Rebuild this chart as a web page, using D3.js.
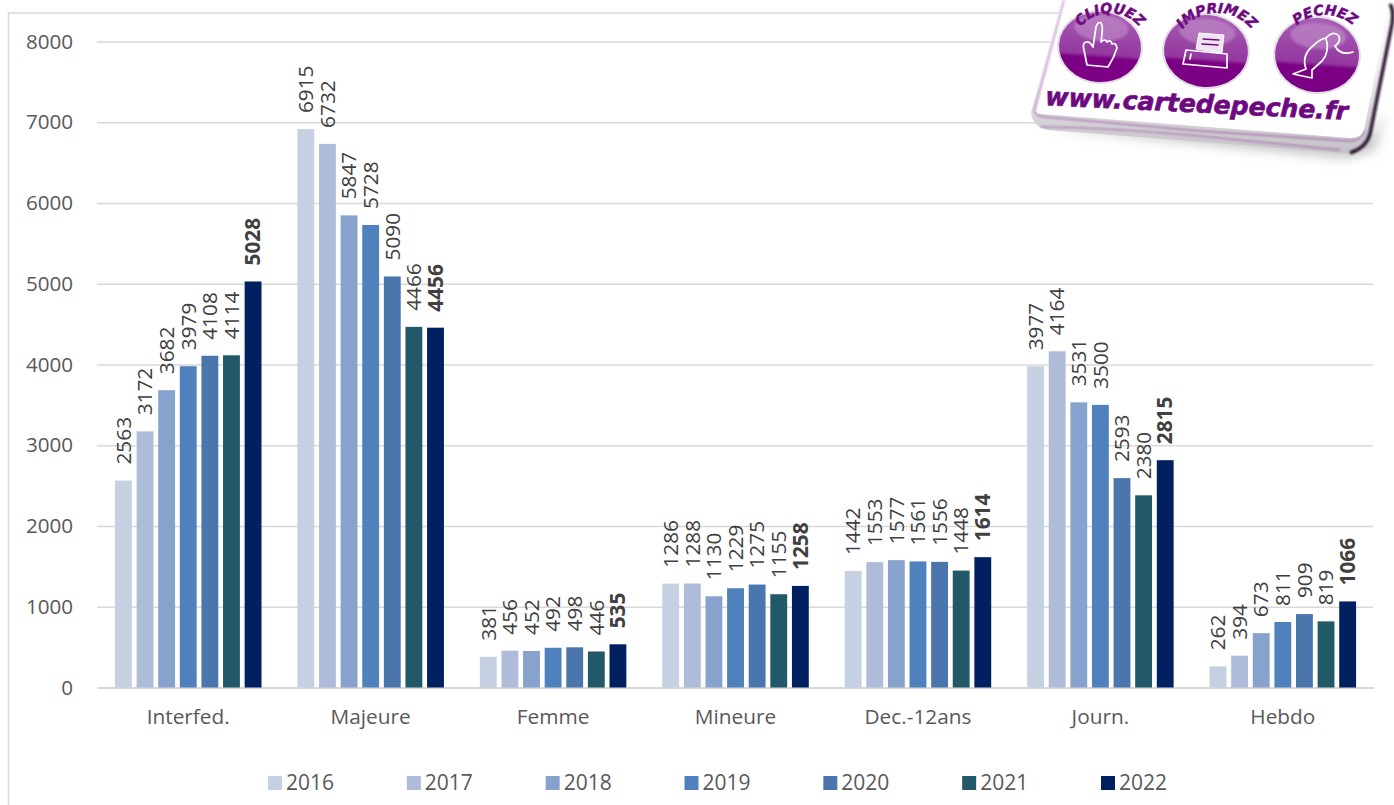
<!DOCTYPE html>
<html>
<head>
<meta charset="utf-8">
<script src="https://cdn.jsdelivr.net/npm/d3@7"></script>
<style>
  html, body { margin: 0; padding: 0; background: #fff; }
  svg { display: block; font-family: "Open Sans", "Noto Sans", sans-serif; }
</style>
</head>
<body>
<svg id="chart" width="1394" height="805"></svg>
<script>
const categories = ["Interfed.", "Majeure", "Femme", "Mineure", "Dec.-12ans", "Journ.", "Hebdo"];
const years = ["2016", "2017", "2018", "2019", "2020", "2021", "2022"];
const yTicks = [0, 1000, 2000, 3000, 4000, 5000, 6000, 7000, 8000];
const colors = ["#c5d0e3", "#aebcda", "#87a2cd", "#4f81bd", "#4a76ad", "#215968", "#002060"];

const interfed = [2563, 3172, 3682, 3979, 4108, 4114, 5028];
const majeure = [6915, 6732, 5847, 5728, 5090, 4466, 4456];
const femme = [381, 456, 452, 492, 498, 446, 535];
const mineure = [1286, 1288, 1130, 1229, 1275, 1155, 1258];
const dec12 = [1442, 1553, 1577, 1561, 1556, 1448, 1614];
const journ = [3977, 4164, 3531, 3500, 2593, 2380, 2815];
const hebdo = [262, 394, 673, 811, 909, 819, 1066];
const values = [interfed, majeure, femme, mineure, dec12, journ, hebdo];

const svg = d3.select("#chart");
const textCol = "#595959";
const chartFont = "'Open Sans', 'Noto Sans', sans-serif";

// chart frame, only left and top show
svg.append("path")
  .attr("d", "M8.5,805V13H1075")
  .attr("fill", "none").attr("stroke", "#d9d9d9").attr("stroke-width", 1.5);

const xScale = d3.scaleBand().domain(categories).range([97, 1374]);
const yScale = d3.scaleLinear().domain([0, 8000]).range([687.5, 41.5]);
const barScale = d3.scaleBand().domain(years).range([18, 164.5]).paddingInner(0.22);

// gridlines and y labels
const yAxis = svg.append("g")
  .attr("transform", "translate(97,0)")
  .call(d3.axisLeft(yScale).tickValues(yTicks).tickSize(-1276).tickPadding(24).tickFormat(d3.format("d")));
yAxis.select(".domain").remove();
yAxis.selectAll("line").attr("stroke", "#d9d9d9").attr("stroke-width", 1.5);
yAxis.selectAll("text").attr("fill", textCol).style("font-size", "20.6px").style("font-family", chartFont);

// x labels
const xAxis = svg.append("g")
  .attr("transform", "translate(0,687.5)")
  .call(d3.axisBottom(xScale).tickSize(0).tickPadding(22));
xAxis.select(".domain").attr("stroke", "#d9d9d9").attr("stroke-width", 2);
xAxis.selectAll("text").attr("fill", textCol).style("font-size", "20.8px").style("font-family", chartFont);

// bars
const groups = svg.append("g").selectAll("g")
  .data(categories)
  .join("g")
  .attr("transform", d => `translate(${xScale(d)},0)`);

groups.selectAll("rect")
  .data((d, i) => values[i].map((v, j) => ({ year: years[j], v: v, c: colors[j] })))
  .join("rect")
  .attr("x", d => barScale(d.year))
  .attr("y", d => yScale(d.v))
  .attr("width", barScale.bandwidth())
  .attr("height", d => yScale(0) - yScale(d.v))
  .attr("fill", d => d.c);

// rotated value labels, 2022 in bold
groups.selectAll("text")
  .data((d, i) => values[i].map((v, j) => ({ year: years[j], v: v })))
  .join("text")
  .attr("transform", d => `translate(${barScale(d.year) + barScale.bandwidth() / 2},${yScale(d.v) - 16}) rotate(-90)`)
  .attr("dy", "0.35em")
  .attr("fill", "#404040")
  .style("font-size", "20.8px")
  .style("font-weight", d => d.year == "2022" ? "700" : "400")
  .text(d => d.v);

// legend
const legendX = d3.scalePoint().domain(years).range([268, 1101]);
const legend = svg.append("g").selectAll("g")
  .data(years)
  .join("g")
  .attr("transform", d => `translate(${legendX(d)},776)`);
legend.append("rect")
  .attr("width", 14).attr("height", 14)
  .attr("fill", (d, i) => colors[i]);
legend.append("text")
  .attr("x", 18).attr("y", 7).attr("dy", "0.35em")
  .attr("fill", textCol)
  .style("font-size", "21px")
  .text(d => d);

// the cartedepeche.fr sticker, top right
const defs = svg.append("defs");
const shadow = defs.append("filter").attr("id", "soft").attr("x", "-10%").attr("y", "-30%").attr("width", "120%").attr("height", "160%");
shadow.append("feGaussianBlur").attr("stdDeviation", 6);
const blurSmall = defs.append("filter").attr("id", "soft2").attr("x", "-20%").attr("y", "-20%").attr("width", "140%").attr("height", "140%");
blurSmall.append("feGaussianBlur").attr("stdDeviation", 0.9);

const ball = defs.append("linearGradient").attr("id", "ball").attr("x1", 0).attr("y1", 0).attr("x2", 0).attr("y2", 1);
ball.append("stop").attr("offset", "0").attr("stop-color", "#a85eb4");
ball.append("stop").attr("offset", "0.6").attr("stop-color", "#93389f");
ball.append("stop").attr("offset", "0.66").attr("stop-color", "#7b0084");
ball.append("stop").attr("offset", "1").attr("stop-color", "#7b0084");

const bevel = defs.append("linearGradient").attr("id", "bevel").attr("x1", 0).attr("y1", 0).attr("x2", 0).attr("y2", 1);
bevel.append("stop").attr("offset", "0").attr("stop-color", "#ffffff");
bevel.append("stop").attr("offset", "0.5").attr("stop-color", "#eeecef");
bevel.append("stop").attr("offset", "1").attr("stop-color", "#c4c0c7");

const logo = svg.append("g");
const purple = "#6e0a80";

logo.append("path")
  .attr("d", "M1045,128L1345,158L1375,150L1385,110L1372,135Z")
  .attr("fill", "#888").attr("opacity", 0.5).attr("filter", "url(#soft)");
// bevel under the card
logo.append("path")
  .attr("d", "M1062,0L1031,112Q1032,126 1048,130L1345,153Q1360,154 1367,142L1394,18V0Z")
  .attr("fill", "url(#bevel)");
// top face
logo.append("path")
  .attr("d", "M1064,0L1035,110Q1035,114 1042,114L1350,138Q1362,138 1364,130L1387,14Q1387,5 1378,0Z")
  .attr("fill", "#fff");
logo.append("path")
  .attr("d", "M1064,0L1035,110Q1034,116 1045,117L1200,131L1350,141Q1362,141 1365,130")
  .attr("fill", "none").attr("stroke", purple).attr("stroke-width", 1).attr("opacity", 0.65).attr("filter", "url(#soft2)");
logo.append("path")
  .attr("d", "M1040,127Q1100,127 1200,136L1340,150")
  .attr("fill", "none").attr("stroke", purple).attr("stroke-width", 1).attr("opacity", 0.55).attr("filter", "url(#soft2)");
logo.append("path")
  .attr("d", "M1390,4Q1394,10 1392,24L1370,134Q1366,148 1350,153")
  .attr("fill", "none").attr("stroke", "#2a1630").attr("stroke-width", 3.5).attr("filter", "url(#soft2)");

const badges = [
  { cx: 1100, cy: 47, rx: 41, ry: 35, tilt: 4 },
  { cx: 1206, cy: 51, rx: 42, ry: 36, tilt: 4 },
  { cx: 1317, cy: 55, rx: 42, ry: 37, tilt: 4 }
];
logo.selectAll("ellipse.ring")
  .data(badges)
  .join("ellipse")
  .attr("class", "ring")
  .attr("transform", d => `rotate(${d.tilt},${d.cx},${d.cy})`)
  .attr("cx", d => d.cx).attr("cy", d => d.cy).attr("rx", d => d.rx + 2).attr("ry", d => d.ry + 2)
  .attr("fill", "#e2dde4");
logo.selectAll("ellipse.ball")
  .data(badges)
  .join("ellipse")
  .attr("class", "ball")
  .attr("transform", d => `rotate(${d.tilt},${d.cx},${d.cy})`)
  .attr("cx", d => d.cx).attr("cy", d => d.cy).attr("rx", d => d.rx).attr("ry", d => d.ry)
  .attr("fill", "url(#ball)");
logo.selectAll("ellipse.shine")
  .data(badges)
  .join("ellipse")
  .attr("class", "shine")
  .attr("transform", d => `rotate(${d.tilt},${d.cx},${d.cy})`)
  .attr("cx", d => d.cx).attr("cy", d => d.cy - 19).attr("rx", d => d.rx - 14).attr("ry", 13)
  .attr("fill", "#c596cc").attr("opacity", 0.55).attr("filter", "url(#soft2)");

const iconStyle = g => g.attr("fill", "none").attr("stroke", "#fff").attr("stroke-width", 1.7).attr("stroke-linejoin", "round").attr("stroke-linecap", "round");

// hand
logo.append("path").call(iconStyle)
  .attr("d", "M1087,65L1084,50Q1082,43 1086,42Q1090,41 1093,47L1096,27Q1098,21 1101,23Q1103,25 1102,34L1101,42Q1105,38 1107,42Q1111,39 1112,44Q1116,42 1117,48Q1114,58 1108,67Z");
// printer
logo.append("path")
  .attr("d", "M1196,49L1199,33L1224,35L1222,53Z")
  .attr("fill", "#efe3f1").attr("stroke", "#fff");
logo.append("path").call(iconStyle).attr("stroke", purple).attr("stroke-width", 1.4)
  .attr("d", "M1203,39L1219,40M1202,44L1218,45");
logo.append("path").call(iconStyle)
  .attr("d", "M1186,50L1227,54L1227,68L1183,64ZM1191,54L1190,59");
// fish and line
logo.append("path").call(iconStyle)
  .attr("d", "M1293,74L1306,69Q1301,55 1314,45Q1320,39 1326,38Q1330,52 1322,61L1312,70L1312,78ZM1326,38Q1333,30 1339,36Q1341,42 1335,46Q1340,56 1353,52");

// arc captions above each badge
const captions = ["CLIQUEZ", "IMPRIMEZ", "PECHEZ"];
const capArcs = [
  { cx: 1110, cy: 51, r: 38, half: 1.5 },
  { cx: 1217, cy: 58, r: 45, half: 1.5 },
  { cx: 1325, cy: 58, r: 43, half: 1.4 }
];
capArcs.forEach((b, i) => {
  const a0 = -Math.PI / 2 - b.half, a1 = -Math.PI / 2 + b.half;
  defs.append("path")
    .attr("id", "arc" + i)
    .attr("d", `M${b.cx + b.r * Math.cos(a0)},${b.cy + b.r * Math.sin(a0)}A${b.r},${b.r} 0 0 1 ${b.cx + b.r * Math.cos(a1)},${b.cy + b.r * Math.sin(a1)}`);
  logo.append("text")
    .attr("fill", purple)
    .attr("stroke", purple).attr("stroke-width", 0.5)
    .style("font-family", "'DejaVu Sans', sans-serif")
    .style("font-size", "14px")
    .style("font-weight", "700")
    .style("font-style", "italic")
    .append("textPath")
    .attr("href", "#arc" + i)
    .attr("startOffset", "50%")
    .attr("text-anchor", "middle")
    .text(captions[i]);
});

logo.append("text")
  .attr("transform", "translate(1045,105) rotate(2.8)")
  .attr("fill", purple)
  .attr("stroke", purple).attr("stroke-width", 0.7)
  .attr("textLength", 303)
  .attr("lengthAdjust", "spacingAndGlyphs")
  .style("font-family", "'DejaVu Sans', sans-serif")
  .style("font-size", "25px")
  .style("font-weight", "700")
  .style("font-style", "italic")
  .text("www.cartedepeche.fr");
</script>
</body>
</html>
